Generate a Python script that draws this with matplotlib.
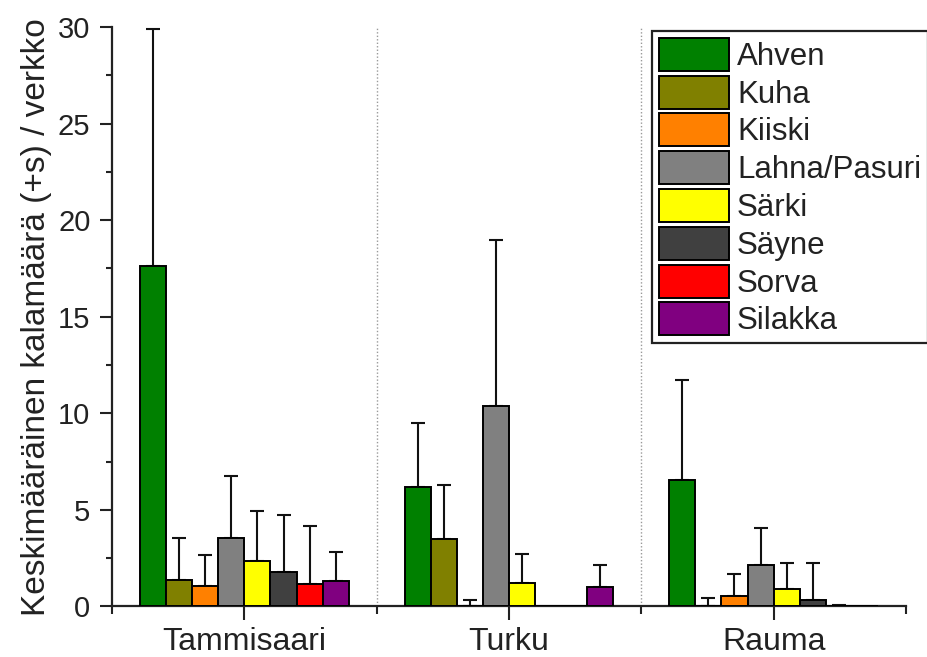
import numpy as np
import matplotlib
matplotlib.use("Agg")
import matplotlib.pyplot as plt
from matplotlib.ticker import MultipleLocator, FixedLocator

plt.rcParams['font.family'] = ['Liberation Sans', 'DejaVu Sans']

# Data
sites = ["Tammisaari", "Turku", "Rauma"]
species = ["Ahven", "Kuha", "Kiiski", "Lahna/Pasuri", "Särki", "Säyne", "Sorva", "Silakka"]
colors = ["#008000", "#808000", "#FF8000", "#808080", "#FFFF00", "#404040", "#FF0000", "#800080"]

# mean catch per net, one list per species (Tammisaari, Turku, Rauma)
ahven = [17.65, 6.18, 6.56]
kuha = [1.35, 3.49, 0.0]
kiiski = [1.07, 0.0, 0.52]
lahna = [3.56, 10.39, 2.14]
sarki = [2.33, 1.24, 0.90]
sayne = [1.78, 0.0, 0.35]
sorva = [1.18, 0.0, 0.0]
silakka = [1.31, 1.00, 0.0]

# standard deviation (+s), one list per species
ahven_s = [12.25, 3.31, 5.17]
kuha_s = [2.21, 2.82, 0.43]
kiiski_s = [1.59, 0.35, 1.17]
lahna_s = [3.19, 8.58, 1.92]
sarki_s = [2.61, 1.49, 1.35]
sayne_s = [2.94, 0.0, 1.90]
sorva_s = [2.97, 0.0, 0.08]
silakka_s = [1.49, 1.16, 0.0]

means = [ahven, kuha, kiiski, lahna, sarki, sayne, sorva, silakka]
sds = [ahven_s, kuha_s, kiiski_s, lahna_s, sarki_s, sayne_s, sorva_s, silakka_s]

fig = plt.figure(figsize=(9.28, 6.57), dpi=100)
ax = fig.add_axes([0.1207, 0.0769, 0.8556, 0.882])

centers = np.arange(len(sites)) + 0.5
width = 0.0987
n = len(species)

for i, (name, col, m, s) in enumerate(zip(species, colors, means, sds)):
    x = centers + (i - (n - 1) / 2) * width
    m = np.array(m)
    s = np.array(s)
    ax.bar(x, m, width, color=col, edgecolor="black", linewidth=1.4,
           label=name, zorder=3)
    has_err = s > 0
    ax.errorbar(x[has_err], m[has_err], yerr=[np.zeros(has_err.sum()), s[has_err]],
                fmt="none", ecolor="#111111", elinewidth=1.5, capsize=4.7,
                capthick=1.5, zorder=2)

# dotted separators between sites
for b in [1, 2]:
    ax.axvline(b, color="#999999", linestyle=(0, (1, 1.5)), linewidth=1.0, zorder=1)

ax.set_xlim(0, 3)
ax.set_ylim(0, 30)

ax.xaxis.set_major_locator(FixedLocator(centers))
ax.set_xticklabels(sites)
ax.xaxis.set_minor_locator(FixedLocator([0, 1, 2, 3]))
ax.yaxis.set_major_locator(MultipleLocator(5))
ax.yaxis.set_minor_locator(MultipleLocator(2.5))

ax.tick_params(axis="both", which="both", direction="out", width=1.5,
               colors="#222222")
ax.tick_params(axis="x", which="major", length=10, pad=5, labelsize=23)
ax.tick_params(axis="x", which="minor", length=6)
ax.tick_params(axis="y", which="major", length=8.5, pad=7, labelsize=21)
ax.tick_params(axis="y", which="minor", length=4)

for side in ["top", "right"]:
    ax.spines[side].set_visible(False)
for side in ["left", "bottom"]:
    ax.spines[side].set_linewidth(1.6)
    ax.spines[side].set_color("#222222")

ax.set_ylabel("Keskimääräinen kalamäärä (+s) / verkko", fontsize=24,
              color="#222222", labelpad=4)

leg = ax.legend(loc="upper left", bbox_to_anchor=(652 / 928, 1 - 31 / 657),
                bbox_transform=fig.transFigure, borderaxespad=0,
                fontsize=22.5, handlelength=2.25, handleheight=1.25,
                labelspacing=0.12, handletextpad=0.25, borderpad=0.22,
                fancybox=False, framealpha=1)
leg.get_frame().set_edgecolor("#222222")
leg.get_frame().set_linewidth(1.6)
for t in leg.get_texts():
    t.set_color("#222222")

fig.savefig("out.png", dpi=100)
